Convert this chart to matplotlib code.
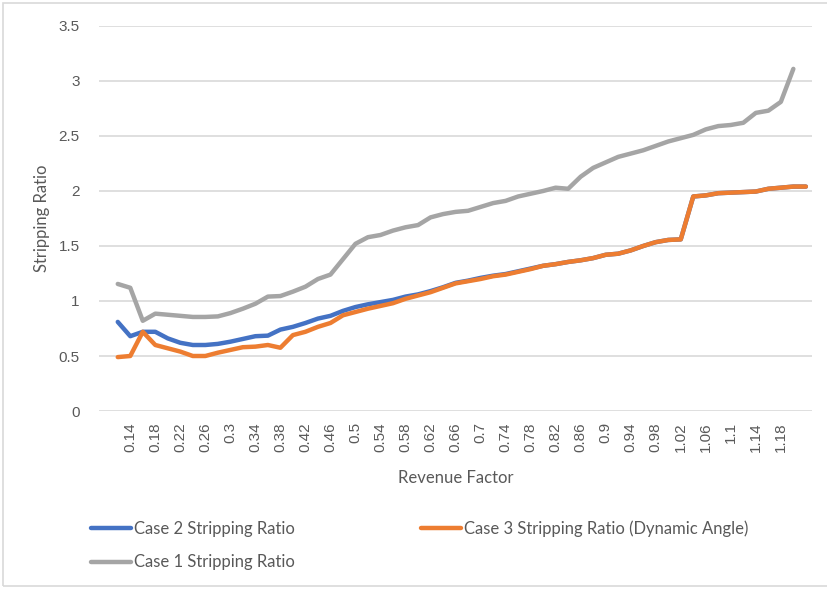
import matplotlib.pyplot as plt
import matplotlib.patches as patches
import numpy as np

# Revenue factor categories 0.12 .. 1.22 (step 0.02)
revenue_factor = [0.12, 0.14, 0.16, 0.18, 0.20, 0.22, 0.24, 0.26, 0.28, 0.30,
                  0.32, 0.34, 0.36, 0.38, 0.40, 0.42, 0.44, 0.46, 0.48, 0.50,
                  0.52, 0.54, 0.56, 0.58, 0.60, 0.62, 0.64, 0.66, 0.68, 0.70,
                  0.72, 0.74, 0.76, 0.78, 0.80, 0.82, 0.84, 0.86, 0.88, 0.90,
                  0.92, 0.94, 0.96, 0.98, 1.00, 1.02, 1.04, 1.06, 1.08, 1.10,
                  1.12, 1.14, 1.16, 1.18, 1.20, 1.22]

case2 = [0.81, 0.68, 0.72, 0.72, 0.66, 0.62, 0.60, 0.60, 0.61, 0.63,
         0.655, 0.68, 0.685, 0.74, 0.765, 0.80, 0.84, 0.865, 0.91, 0.945,
         0.97, 0.99, 1.01, 1.04, 1.06, 1.09, 1.125, 1.165, 1.185, 1.21,
         1.23, 1.245, 1.27, 1.295, 1.32, 1.335, 1.355, 1.37, 1.39, 1.42,
         1.43, 1.46, 1.50, 1.535, 1.555, 1.56, 1.95, 1.96, 1.98, 1.985,
         1.99, 1.995, 2.02, 2.03, 2.04, 2.04]

case3 = [0.49, 0.50, 0.72, 0.60, 0.57, 0.54, 0.50, 0.50, 0.53, 0.555,
         0.58, 0.585, 0.60, 0.575, 0.69, 0.72, 0.765, 0.80, 0.87, 0.90,
         0.93, 0.955, 0.98, 1.02, 1.05, 1.08, 1.12, 1.16, 1.18, 1.20,
         1.225, 1.24, 1.265, 1.29, 1.32, 1.335, 1.355, 1.37, 1.39, 1.42,
         1.43, 1.46, 1.50, 1.535, 1.555, 1.56, 1.95, 1.96, 1.98, 1.985,
         1.99, 1.995, 2.02, 2.03, 2.04, 2.04]

# Case 1 has no value at 1.22
case1 = [1.155, 1.12, 0.82, 0.885, 0.875, 0.865, 0.855, 0.855, 0.86, 0.89,
         0.93, 0.975, 1.04, 1.045, 1.085, 1.13, 1.20, 1.24, 1.38, 1.52,
         1.58, 1.60, 1.64, 1.67, 1.69, 1.76, 1.79, 1.81, 1.82, 1.855,
         1.89, 1.91, 1.95, 1.975, 2.00, 2.03, 2.02, 2.13, 2.21, 2.26,
         2.31, 2.34, 2.37, 2.41, 2.45, 2.48, 2.51, 2.56, 2.59, 2.60,
         2.62, 2.71, 2.73, 2.81, 3.11]

tick_labels = ['0.14', '0.18', '0.22', '0.26', '0.3', '0.34', '0.38', '0.42',
               '0.46', '0.5', '0.54', '0.58', '0.62', '0.66', '0.7', '0.74',
               '0.78', '0.82', '0.86', '0.9', '0.94', '0.98', '1.02', '1.06',
               '1.1', '1.14', '1.18']

text_color = '#595959'
grid_color = '#d9d9d9'
label_font = 'Lato'

fig = plt.figure(figsize=(8.27, 5.89), dpi=100)
ax = fig.add_axes([0.1197, 0.3022, 0.8623, 0.6537])

ax.plot(revenue_factor, case2, color='#4472C4', lw=3.2, solid_capstyle='round',
        solid_joinstyle='round', label='Case 2 Stripping Ratio', zorder=3)
ax.plot(revenue_factor[:len(case1)], case1, color='#A5A5A5', lw=3.2, solid_capstyle='round',
        solid_joinstyle='round', label='Case 1 Stripping Ratio', zorder=3)
ax.plot(revenue_factor, case3, color='#ED7D31', lw=3.2, solid_capstyle='round',
        solid_joinstyle='round', label='Case 3 Stripping Ratio (Dynamic Angle)', zorder=4)

ax.set_xlim(0.09, 1.23)
ax.set_ylim(0, 3.5)
ax.set_yticks(np.arange(0, 3.51, 0.5))
ax.set_yticklabels(['0', '0.5', '1', '1.5', '2', '2.5', '3', '3.5'])
ax.set_xticks([float(t) for t in tick_labels])
ax.set_xticklabels(tick_labels, rotation=90)
ax.grid(axis='y', color=grid_color, lw=1.2)
ax.set_axisbelow(True)
for side in ['top', 'right', 'left', 'bottom']:
    ax.spines[side].set_visible(False)
ax.tick_params(axis='both', length=0, colors=text_color, labelsize=11, pad=8)
ax.tick_params(axis='y', pad=14)
for lbl in ax.get_xticklabels() + ax.get_yticklabels():
    lbl.set_fontfamily('Liberation Sans')

ax.set_xlabel('Revenue Factor', fontsize=12, color=text_color, family=label_font, labelpad=13)
ax.set_ylabel('Stripping Ratio', fontsize=12, color=text_color, family=label_font, labelpad=6)

handles, labels = ax.get_legend_handles_labels()
leg = fig.legend(handles, labels, ncol=2, loc='upper left', bbox_to_anchor=(0.092, 0.142),
                 frameon=False, handlelength=2.4, handletextpad=0.15, columnspacing=7.6,
                 labelspacing=1.05, prop={'family': label_font, 'size': 12})
for t in leg.get_texts():
    t.set_color(text_color)

# light border round the chart area
fig.patches.append(patches.Rectangle((3 / 827, 3 / 589), 1.0, 1 - 6 / 589,
                                     transform=fig.transFigure, fill=False,
                                     edgecolor=grid_color, lw=1.2))

fig.savefig('out.png', dpi=100)
